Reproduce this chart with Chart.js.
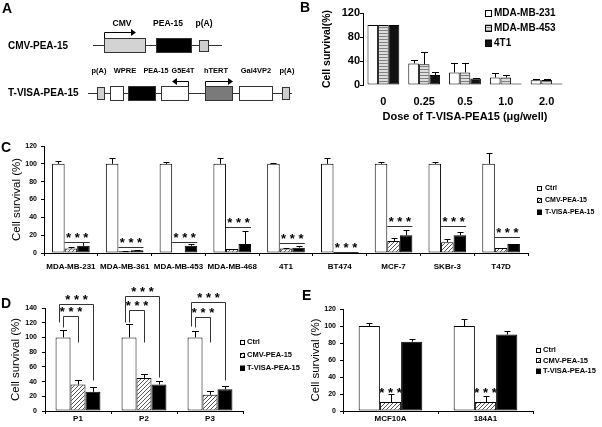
<!DOCTYPE html>
<html>
<head>
<meta charset="utf-8">
<script src="https://cdn.jsdelivr.net/npm/chart.js@4.4.1/dist/chart.umd.min.js"></script>
<style>
  body { margin: 0; background: #fff; width: 602px; height: 427px; position: relative; overflow: hidden; }
  canvas { position: absolute; }
  .tag { position: absolute; font: bold 14px 'Liberation Sans', Arial, sans-serif; line-height: 14px; color: #000; }
</style>
</head>
<body>
<canvas id="schema" width="300" height="112" style="left:0;top:0"></canvas>
<canvas id="chartB" width="302" height="125" style="left:300px;top:0"></canvas>
<canvas id="chartC" width="602" height="135" style="left:0;top:140px"></canvas>
<canvas id="chartD" width="300" height="147" style="left:0;top:280px"></canvas>
<canvas id="chartE" width="302" height="147" style="left:300px;top:280px"></canvas>
<div class="tag" style="left:2px;top:1px">A</div>
<div class="tag" style="left:300px;top:0">B</div>
<div class="tag" style="left:1px;top:140px">C</div>
<div class="tag" style="left:1px;top:296px">D</div>
<div class="tag" style="left:302px;top:288px">E</div>
<script>
const FONT = "'Liberation Sans', Arial, sans-serif";

// ---- panel B: dose response ----
const doseLabels = ["0", "0.25", "0.5", "1.0", "2.0"];
const mda231 = [100, 36, 21, 12.5, 8];
const mda231Err = [0, 5.5, 15, 7, 1.5];
const mda453 = [100, 34.5, 21, 12.5, 8.5];
const mda453Err = [0, 21, 15, 4, 2];
const t4t1 = [100, 16.5, 11, 2.5, 2.5];
const t4t1Err = [0, 6, 1, 0, 0];

// ---- panel C: cell lines ----
const cellLines = ["MDA-MB-231", "MDA-MB-361", "MDA-MB-453", "MDA-MB-468", "4T1", "BT474", "MCF-7", "SKBr-3", "T47D"];
const cCtrl = [100, 100, 100, 100, 100, 100, 100, 100, 100];
const cCtrlErr = [3.5, 7, 2.5, 7, 0.5, 6, 2.5, 2, 12];
const cCmv = [5, 2, 0.5, 4.5, 5, 0.5, 13.5, 12, 5.5];
const cCmvErr = [1.5, 0.5, 0, 0.5, 1, 0, 3.5, 3.5, 0.5];
const cTvisa = [8, 3, 8, 10, 6, 0.5, 20, 20, 10];
const cTvisaErr = [4.5, 0.5, 2.5, 15, 2, 0, 6, 3.5, 0];
const cSig = [12, 7, 12.5, 29.5, 11.5, 1.5, 30.5, 30, 18];

// ---- panel D: primary cells ----
const pLabels = ["P1", "P2", "P3"];
const dCtrl = [100, 100, 100];
const dCtrlErr = [10.5, 18, 8.7];
const dCmv = [36, 45, 22];
const dCmvErr = [5.7, 5.7, 4.7];
const dTvisa = [26, 36, 29.5];
const dTvisaErr = [6, 5, 4];
const dInner = [129, 137, 128];
const dOuter = [146, 156, 148];
const dInnerLeft = [114, 121, 114];
const dOuterLeft = [121, 121, 116];
const dInnerRight = [94, 94, 94];
const dOuterRight = [42, 46, 42];

// ---- panel E: normal cells ----
const eLabels = ["MCF10A", "184A1"];
const eCtrl = [100, 100];
const eCtrlErr = [4, 8];
const eCmv = [10.5, 10.5];
const eCmvErr = [9, 7.5];
const eTvisa = [81.5, 90];
const eTvisaErr = [3, 3.8];
const eStar = [16, 16];

Chart.defaults.font.family = FONT;
Chart.defaults.color = "#000";

function hatchPattern() {
  const c = document.createElement("canvas");
  c.width = 4; c.height = 4;
  const g = c.getContext("2d");
  g.fillStyle = "#fff"; g.fillRect(0, 0, 4, 4);
  g.strokeStyle = "#555"; g.lineWidth = 1;
  g.beginPath();
  g.moveTo(0, 4); g.lineTo(4, 0);
  g.moveTo(-1, 1); g.lineTo(1, -1);
  g.moveTo(3, 5); g.lineTo(5, 3);
  g.stroke();
  return g.createPattern(c, "repeat");
}
function stripePattern() {
  const c = document.createElement("canvas");
  c.width = 2; c.height = 3;
  const g = c.getContext("2d");
  g.fillStyle = "#dcdcdc"; g.fillRect(0, 0, 2, 3);
  g.fillStyle = "#808080"; g.fillRect(0, 0, 2, 1);
  return g.createPattern(c, "repeat");
}
const hatch = hatchPattern();
const stripes = stripePattern();

// upper error bars, from dataset.err
const errorBars = {
  id: "errorBars",
  afterDatasetsDraw(chart, args, opts) {
    const { ctx } = chart;
    const ys = chart.scales.y;
    ctx.save();
    ctx.strokeStyle = "#000";
    ctx.lineWidth = 1;
    chart.data.datasets.forEach((ds, i) => {
      chart.getDatasetMeta(i).data.forEach((bar, j) => {
        const e = ds.err[j];
        if (!e) return;
        const x = Math.round(bar.x) + 0.5;
        const top = Math.round(ys.getPixelForValue(ds.data[j] + e)) + 0.5;
        const half = opts.cap / 2;
        ctx.beginPath();
        ctx.moveTo(x, bar.y);
        ctx.lineTo(x, top);
        ctx.moveTo(x - half, top);
        ctx.lineTo(x + half, top);
        ctx.stroke();
      });
    });
    ctx.restore();
  },
};

const boxLegend = {
  id: "boxLegend",
  afterDraw(chart, args, o) {
    const { ctx } = chart;
    ctx.save();
    ctx.font = "bold " + o.size + "px " + FONT;
    ctx.textBaseline = "middle";
    chart.data.datasets.forEach((ds, i) => {
      const y = o.rows[i];
      ctx.fillStyle = ds.backgroundColor;
      ctx.fillRect(o.x, y - o.box / 2, o.box, o.box);
      ctx.strokeStyle = "#000";
      ctx.strokeRect(o.x + 0.5, Math.round(y - o.box / 2) + 0.5, o.box - 1, o.box - 1);
      ctx.fillStyle = "#000";
      ctx.fillText(ds.label, o.text, y);
    });
    ctx.restore();
  },
};

function yFit(w) {
  return (s) => { s.width = w; s.paddingTop = 0; s.paddingBottom = 0; };
}
function xFit(h) {
  return (s) => { s.height = h; s.paddingLeft = 0; s.paddingRight = 0; };
}
function stars(ctx, x, y) {
  ctx.font = "bold 13px " + FONT;
  ctx.textAlign = "center";
  ctx.textBaseline = "alphabetic";
  ctx.fillStyle = "#000";
  ctx.fillText("* * *", x, y);
}

const barStyle = { barPercentage: 1, borderColor: "#000", borderWidth: 1, borderSkipped: false };
const axisGrid = { drawOnChartArea: false, tickLength: 3, color: "#000" };

// ---------- schematic A ----------
const sc = document.getElementById("schema").getContext("2d");
function part(x, y, w, h, fill) {
  sc.fillStyle = fill;
  sc.fillRect(x, y, w, h);
  sc.strokeStyle = "#333";
  sc.strokeRect(x + 0.5, y + 0.5, w - 1, h - 1);
}
function promoterArrow(x0, y0, yTop, x1) {
  sc.strokeStyle = "#000";
  sc.beginPath();
  sc.moveTo(x0 + 0.5, y0);
  sc.lineTo(x0 + 0.5, yTop + 0.5);
  sc.lineTo(x1, yTop + 0.5);
  sc.stroke();
  const d = x1 > x0 ? 1 : -1;
  sc.fillStyle = "#000";
  sc.beginPath();
  sc.moveTo(x1 + d * 4, yTop + 0.5);
  sc.lineTo(x1 - d * 1, yTop - 3);
  sc.lineTo(x1 - d * 1, yTop + 4);
  sc.fill();
}
function label(t, x, y, size) {
  sc.font = "bold " + size + "px " + FONT;
  sc.fillStyle = "#000";
  sc.textAlign = "center";
  sc.textBaseline = "middle";
  sc.fillText(t, x, y);
}
function rowLine(x0, x1, y) {
  sc.strokeStyle = "#333";
  sc.beginPath();
  sc.moveTo(x0, y + 0.5);
  sc.lineTo(x1, y + 0.5);
  sc.stroke();
}
sc.lineWidth = 1;
sc.font = "bold 10px " + FONT;
sc.textAlign = "left"; sc.textBaseline = "middle"; sc.fillStyle = "#000";
sc.fillText("CMV-PEA-15", 8, 46);
sc.fillText("T-VISA-PEA-15", 8, 93);
rowLine(93, 222, 45);
part(104, 38, 42, 15, "#d3d3d3");
part(156, 38, 36, 15, "#000");
part(199, 40, 10, 12, "#cfcfcf");
promoterArrow(104, 38, 32, 132);
label("CMV", 122, 24, 8.5);
label("PEA-15", 168, 24, 8.5);
label("p(A)", 204, 24, 8.5);

rowLine(88, 292, 93);
part(97, 87, 8, 13, "#cfcfcf");
part(110, 86, 14, 15, "#fff");
part(128, 86, 28, 15, "#000");
part(161, 86, 28, 15, "#fff");
part(205, 86, 28, 15, "#7a7a7a");
part(239, 86, 34, 15, "#fff");
part(282, 87, 8, 13, "#cfcfcf");
promoterArrow(188, 86, 81, 176);
promoterArrow(205, 86, 81, 229);
label("p(A)", 99, 71, 7.5);
label("WPRE", 125, 71, 7.5);
label("PEA-15", 156, 71, 7.2);
label("G5E4T", 183, 71, 7.2);
label("hTERT", 216, 71, 7.5);
label("Gal4VP2", 256, 71, 7.5);
label("p(A)", 287, 71, 7.5);

// ---------- chart B ----------
new Chart(document.getElementById("chartB"), {
  type: "bar",
  data: {
    labels: doseLabels,
    datasets: [
      { label: "MDA-MB-231", data: mda231, err: mda231Err, backgroundColor: "#fff" },
      { label: "MDA-MB-453", data: mda453, err: mda453Err, backgroundColor: stripes },
      { label: "4T1", data: t4t1, err: t4t1Err, backgroundColor: "#111" },
    ],
  },
  options: {
    responsive: false,
    animation: false,
    layout: { padding: { left: 0, top: 13, right: 35, bottom: 1 } },
    datasets: { bar: { ...barStyle, categoryPercentage: 0.78 } },
    plugins: {
      legend: { display: false },
      tooltip: { enabled: false },
      errorBars: { cap: 7 },
      boxLegend: { x: 185, text: 194, rows: [13, 28, 43], box: 7, size: 10 },
    },
    scales: {
      x: {
        grid: { display: false, drawTicks: false },
        border: { display: false },
        ticks: { font: { size: 11, weight: "bold" }, padding: 10, maxRotation: 0 },
        title: { display: true, text: "Dose of T-VISA-PEA15 (μg/well)", font: { size: 11, weight: "bold" }, padding: { top: 0, bottom: 0 } },
        afterFit: xFit(39),
      },
      y: {
        min: 0,
        max: 120,
        ticks: { stepSize: 20, font: { size: 11, weight: "bold" }, padding: 0 },
        grid: axisGrid,
        border: { color: "#000" },
        title: { display: true, text: "Cell survival(%)", font: { size: 10.5, weight: "bold" }, padding: { top: 21, bottom: 0 } },
        afterFit: yFit(63),
      },
    },
  },
  plugins: [errorBars, boxLegend],
});

// ---------- chart C ----------
const cSigPlugin = {
  id: "cSig",
  afterDatasetsDraw(chart) {
    const { ctx } = chart;
    const ys = chart.scales.y;
    const cmv = chart.getDatasetMeta(1).data;
    const tv = chart.getDatasetMeta(2).data;
    ctx.save();
    ctx.strokeStyle = "#333";
    ctx.lineWidth = 1;
    cellLines.forEach((_, i) => {
      const y = Math.round(ys.getPixelForValue(cSig[i])) + 0.5;
      const x0 = cmv[i].x - cmv[i].width / 2;
      const x1 = tv[i].x + tv[i].width / 2;
      ctx.beginPath();
      ctx.moveTo(x0, y);
      ctx.lineTo(x1, y);
      ctx.stroke();
      stars(ctx, (x0 + x1) / 2, y - 0.5);
    });
    ctx.restore();
  },
};

new Chart(document.getElementById("chartC"), {
  type: "bar",
  data: {
    labels: cellLines,
    datasets: [
      { label: "Ctrl", data: cCtrl, err: cCtrlErr, backgroundColor: "#fff" },
      { label: "CMV-PEA-15", data: cCmv, err: cCmvErr, backgroundColor: hatch },
      { label: "T-VISA-PEA-15", data: cTvisa, err: cTvisaErr, backgroundColor: "#000" },
    ],
  },
  options: {
    responsive: false,
    animation: false,
    layout: { padding: { left: 0, top: 6, right: 74, bottom: 0 } },
    datasets: { bar: { ...barStyle, categoryPercentage: 0.7 } },
    plugins: {
      legend: { display: false },
      tooltip: { enabled: false },
      errorBars: { cap: 6 },
      boxLegend: { x: 537, text: 545, rows: [48, 60, 72], box: 5, size: 7 },
    },
    scales: {
      x: {
        grid: axisGrid,
        border: { color: "#000" },
        ticks: { font: { size: 8, weight: "bold" }, padding: 6, maxRotation: 0, autoSkip: false },
        afterFit: xFit(22),
      },
      y: {
        min: 0,
        max: 120,
        ticks: { stepSize: 20, font: { size: 7, weight: "bold" }, padding: 4 },
        grid: axisGrid,
        border: { color: "#000" },
        title: { display: true, text: "Cell survival (%)", font: { size: 11.5 }, padding: { top: 10, bottom: 0 } },
        afterFit: yFit(44),
      },
    },
  },
  plugins: [errorBars, boxLegend, cSigPlugin],
});

// ---------- chart D ----------
const dSigPlugin = {
  id: "dSig",
  afterDatasetsDraw(chart) {
    const { ctx } = chart;
    const ys = chart.scales.y;
    const py = (v) => Math.round(ys.getPixelForValue(v)) + 0.5;
    const ctrl = chart.getDatasetMeta(0).data;
    const cmv = chart.getDatasetMeta(1).data;
    const tv = chart.getDatasetMeta(2).data;
    ctx.save();
    ctx.strokeStyle = "#333";
    ctx.lineWidth = 1;
    const bracket = (xa, ya, yh, xb, yb) => {
      ctx.beginPath();
      ctx.moveTo(xa, ya);
      ctx.lineTo(xa, yh);
      ctx.lineTo(xb, yh);
      ctx.lineTo(xb, yb);
      ctx.stroke();
    };
    pLabels.forEach((_, i) => {
      const xo = Math.round(ctrl[i].x - ctrl[i].width * 0.3) + 0.5;
      const xi = Math.round(ctrl[i].x) + 0.5;
      const xc = Math.round(cmv[i].x) + 0.5;
      const xt = Math.round(tv[i].x) + 0.5;
      bracket(xo, py(dOuterLeft[i]), py(dOuter[i]), xt, py(dOuterRight[i]));
      bracket(xi, py(dInnerLeft[i]), py(dInner[i]), xc, py(dInnerRight[i]));
      stars(ctx, (xo + xt) / 2, py(dOuter[i]) - 1);
      stars(ctx, (xi + xc) / 2, py(dInner[i]) - 1);
    });
    ctx.restore();
  },
};

new Chart(document.getElementById("chartD"), {
  type: "bar",
  data: {
    labels: pLabels,
    datasets: [
      { label: "Ctrl", data: dCtrl, err: dCtrlErr, backgroundColor: "#fff" },
      { label: "CMV-PEA-15", data: dCmv, err: dCmvErr, backgroundColor: hatch },
      { label: "T-VISA-PEA-15", data: dTvisa, err: dTvisaErr, backgroundColor: "#000" },
    ],
  },
  options: {
    responsive: false,
    animation: false,
    layout: { padding: { left: 0, top: 28, right: 57, bottom: 0 } },
    datasets: { bar: { ...barStyle, categoryPercentage: 0.68 } },
    plugins: {
      legend: { display: false },
      tooltip: { enabled: false },
      errorBars: { cap: 7 },
      boxLegend: { x: 240, text: 247, rows: [62, 75, 88], box: 5, size: 7.5 },
    },
    scales: {
      x: {
        grid: axisGrid,
        border: { color: "#000" },
        ticks: { font: { size: 8, weight: "bold" }, padding: 0, maxRotation: 0 },
        afterFit: xFit(16),
      },
      y: {
        min: 0,
        max: 140,
        ticks: { stepSize: 20, font: { size: 7, weight: "bold" }, padding: 5 },
        grid: axisGrid,
        border: { color: "#000" },
        title: { display: true, text: "Cell survival (%)", font: { size: 11.5 }, padding: { top: 9, bottom: 0 } },
        afterFit: yFit(45),
      },
    },
  },
  plugins: [errorBars, boxLegend, dSigPlugin],
});

// ---------- chart E ----------
const eSigPlugin = {
  id: "eSig",
  afterDatasetsDraw(chart) {
    const { ctx } = chart;
    const ys = chart.scales.y;
    const cmv = chart.getDatasetMeta(1).data;
    ctx.save();
    eLabels.forEach((_, i) => stars(ctx, cmv[i].x, ys.getPixelForValue(eStar[i])));
    ctx.restore();
  },
};

new Chart(document.getElementById("chartE"), {
  type: "bar",
  data: {
    labels: eLabels,
    datasets: [
      { label: "Ctrl", data: eCtrl, err: eCtrlErr, backgroundColor: "#fff" },
      { label: "CMV-PEA-15", data: eCmv, err: eCmvErr, backgroundColor: hatch },
      { label: "T-VISA-PEA-15", data: eTvisa, err: eTvisaErr, backgroundColor: "#000" },
    ],
  },
  options: {
    responsive: false,
    animation: false,
    layout: { padding: { left: 0, top: 29, right: 69, bottom: 0 } },
    datasets: { bar: { ...barStyle, categoryPercentage: 0.67 } },
    plugins: {
      legend: { display: false },
      tooltip: { enabled: false },
      errorBars: { cap: 6 },
      boxLegend: { x: 236, text: 243, rows: [70, 80.5, 91], box: 5, size: 7.5 },
    },
    scales: {
      x: {
        grid: axisGrid,
        border: { color: "#000" },
        ticks: { font: { size: 8, weight: "bold" }, padding: 0, maxRotation: 0 },
        afterFit: xFit(16),
      },
      y: {
        min: 0,
        max: 120,
        ticks: { stepSize: 20, font: { size: 7, weight: "bold" }, padding: 4 },
        grid: axisGrid,
        border: { color: "#000" },
        title: { display: true, text: "Cell survival (%)", font: { size: 11.5 }, padding: { top: 9, bottom: 0 } },
        afterFit: yFit(43),
      },
    },
  },
  plugins: [errorBars, boxLegend, eSigPlugin],
});
</script>
</body>
</html>
